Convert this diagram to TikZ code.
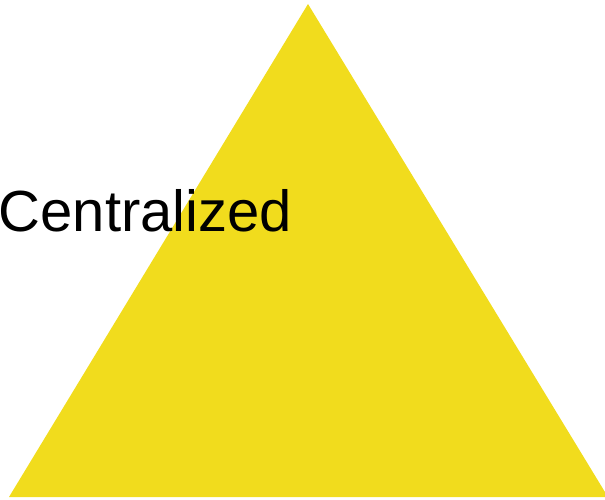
\documentclass[tikz,border=0pt]{standalone}
\usepackage{fontspec}
\setmainfont{Liberation Sans}
\definecolor{tri}{RGB}{241,220,29}
\begin{document}
\begin{tikzpicture}[x=1pt,y=-1pt,
  lbl/.style={font=\fontsize{58}{69}\selectfont,inner sep=0pt,anchor=base west,text=black}]
\useasboundingbox (0,0) rectangle (605,500);
\begin{scope}
\clip (0,0) rectangle (605,500);
\fill[tri] (308,4) -- (608,497) -- (9,497) -- cycle;
\end{scope}
\node[lbl] (c) at (-1.5,231) {Centralized};
\end{tikzpicture}
\end{document}
